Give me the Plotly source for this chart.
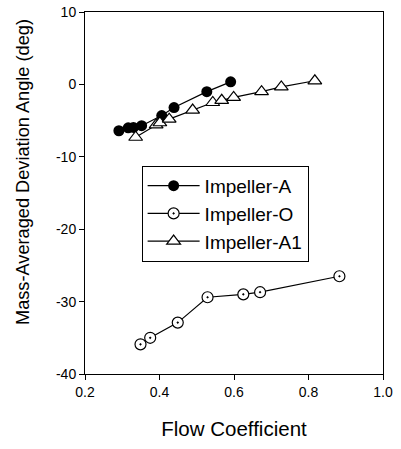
import plotly.graph_objects as go

# Impeller-A
a_x = [0.291, 0.316, 0.330, 0.352, 0.406, 0.439, 0.527, 0.591]
a_y = [-6.4, -6.0, -5.95, -5.7, -4.3, -3.2, -1.0, 0.35]
# Impeller-O
o_x = [0.349, 0.375, 0.449, 0.529, 0.625, 0.670, 0.883]
o_y = [-35.9, -35.0, -32.9, -29.4, -29.0, -28.7, -26.5]
# Impeller-A1
a1_x = [0.336, 0.391, 0.401, 0.426, 0.489, 0.543, 0.567, 0.599, 0.674, 0.727, 0.817]
a1_y = [-7.3, -5.6, -5.3, -4.8, -3.55, -2.5, -2.2, -1.8, -1.0, -0.35, 0.5]

x_ticks = [0.2, 0.4, 0.6, 0.8, 1.0]
x_labels = ["0.2", "0.4", "0.6", "0.8", "1.0"]
y_ticks = [10, 0, -10, -20, -30, -40]
y_labels = ["10", "0", "-10", "-20", "-30", "-40"]

font = "Liberation Sans, Arial, sans-serif"

fig = go.Figure()
fig.add_trace(go.Scatter(x=a_x, y=a_y, mode="lines+markers", name="Impeller-A",
                         line=dict(color="black", width=1.2),
                         marker=dict(symbol="circle", size=11, color="black")))
fig.add_trace(go.Scatter(x=o_x, y=o_y, mode="lines+markers", name="Impeller-O",
                         line=dict(color="black", width=1.2),
                         marker=dict(symbol="circle-dot", size=11, color="white",
                                     line=dict(color="black", width=1.2))))
fig.add_trace(go.Scatter(x=a1_x, y=a1_y, mode="lines+markers", name="Impeller-A1",
                         line=dict(color="black", width=1.2),
                         marker=dict(symbol="triangle-up", size=12, color="white",
                                     line=dict(color="black", width=1.2))))

fig.update_layout(
    width=401, height=449,
    margin=dict(l=85, r=18, t=12, b=75),
    paper_bgcolor="white", plot_bgcolor="white",
    font=dict(family=font, size=14, color="black"),
    showlegend=True,
    legend=dict(x=0.19, y=0.575, xanchor="left", yanchor="top",
                bgcolor="white", bordercolor="black", borderwidth=1,
                font=dict(size=19, family=font), tracegroupgap=0,
                itemwidth=52),
    xaxis=dict(range=[0.2, 1.0], tickvals=x_ticks, ticktext=x_labels,
               ticks="outside", ticklen=5, tickcolor="black",
               showline=True, linecolor="black", linewidth=1, mirror=True,
               showgrid=False, zeroline=False, automargin=False,
               ticklabeloverflow="allow",
               title=dict(text="Flow Coefficient", font=dict(size=20.5), standoff=22),
               tickfont=dict(size=14)),
    yaxis=dict(range=[-40, 10], tickvals=y_ticks, ticktext=y_labels,
               ticks="outside", ticklen=5, tickcolor="black",
               showline=True, linecolor="black", linewidth=1, mirror=True,
               showgrid=False, zeroline=False, automargin=False,
               ticklabeloverflow="allow",
               tickfont=dict(size=14)),
    annotations=[dict(text="Mass-Averaged Deviation Angle (deg)", textangle=-90,
                      xref="paper", yref="paper", x=-0.208, y=0.558,
                      xanchor="center", yanchor="middle", showarrow=False,
                      font=dict(size=18.2, family=font))],
)

fig.write_html("out.html", post_script="document.body.style.margin='0';",
               config={"displayModeBar": False})
